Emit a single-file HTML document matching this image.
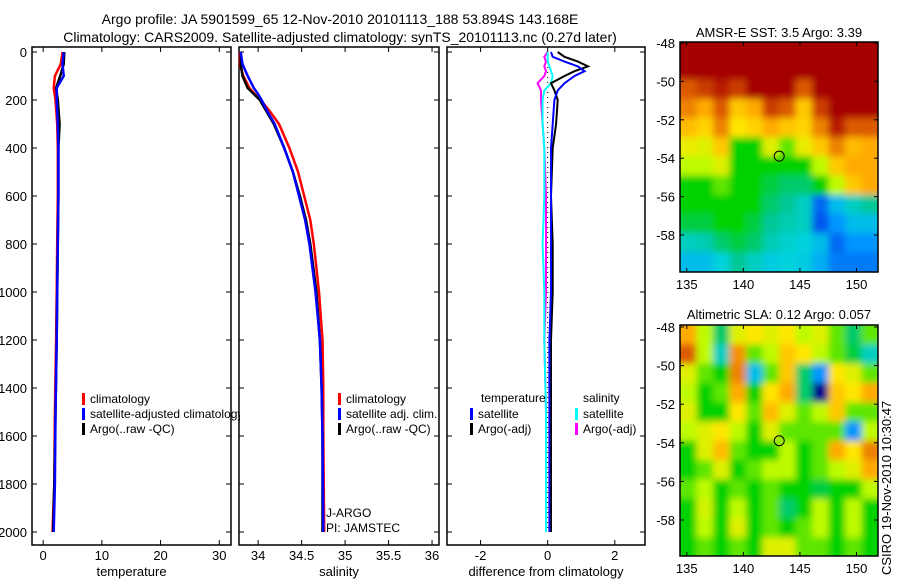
<!DOCTYPE html>
<html><head><meta charset="utf-8"><style>
body{margin:0;background:#fff;}
svg{display:block;font-family:"Liberation Sans",sans-serif;}
text{font-size:13px;fill:#000;}
text.lg{font-size:12px;}
</style></head><body>
<svg id="c" width="900" height="580" xmlns="http://www.w3.org/2000/svg">
<defs>
<filter id="bl" x="0" y="0" width="1" height="1"><feGaussianBlur stdDeviation="3.5"/></filter>
<clipPath id="clipTop"><rect x="680" y="42" width="198" height="230"/></clipPath>
<clipPath id="clipBot"><rect x="680" y="325" width="198" height="231"/></clipPath>
<clipPath id="clipP1"><rect x="32" y="47" width="208" height="498"/></clipPath>
</defs>
<text x="340" y="24" text-anchor="middle" style="font-size:14px">Argo profile: JA 5901599_65 12-Nov-2010 20101113_188 53.894S 143.168E</text>
<text x="340" y="42" text-anchor="middle" style="font-size:14px">Climatology: CARS2009. Satellite-adjusted climatology: synTS_20101113.nc (0.27d later)</text>
<text x="779" y="37" text-anchor="middle">AMSR-E SST: 3.5 Argo: 3.39</text>
<text x="779" y="319" text-anchor="middle">Altimetric SLA: 0.12 Argo: 0.057</text>
<text transform="translate(891,575) rotate(-90)" x="0" y="0">CSIRO 19-Nov-2010 10:30:47</text>
</svg>
<script>
// ---- data ----
const depthTicks=[0,200,400,600,800,1000,1200,1400,1600,1800,2000];
const tempTicks=[0,10,20,30];
const salTicks=[34,34.5,35,35.5,36];
const salTickLabels=["34","34.5","35","35.5","36"];
const diffTicks=[-2,0,2];
const tDepth=[0,50,100,150,200,300,400,600,800,1000,1200,1500,1800,2000];
const tClim=[3.3,3.0,2.0,1.8,2.1,2.4,2.5,2.5,2.4,2.3,2.2,2.0,1.9,1.6];
const tSat=[3.5,3.3,3.5,2.3,2.3,2.5,2.6,2.6,2.5,2.4,2.3,2.1,2.0,1.8];
const tArgo=[3.6,3.5,2.9,2.2,2.5,2.8,2.6,2.6,2.5,2.4,2.3,2.1,1.9,1.7];
const sDepth=[0,50,100,150,175,200,250,300,400,500,600,700,800,1000,1200,1400,1600,2000];
const sArgo=[33.80,33.80,33.82,33.88,33.95,34.02,34.10,34.18,34.30,34.40,34.48,34.55,34.60,34.67,34.71,34.73,34.74,34.74];
const sSat=[33.80,33.82,33.88,33.95,34.00,34.04,34.11,34.19,34.30,34.40,34.47,34.54,34.59,34.66,34.71,34.73,34.74,34.75];
const sClim=[33.79,33.79,33.83,33.90,33.96,34.03,34.14,34.24,34.36,34.46,34.53,34.60,34.64,34.70,34.74,34.75,34.75,34.76];
const dDepth=[0,20,40,60,80,100,130,160,200,300,400,600,800,1000,1200,1500,1800,2000];
const dTSat=[0.1,0.15,0.5,0.9,1.1,0.8,0.5,0.3,0.2,0.15,0.1,0.1,0.1,0.1,0.05,0.05,0.05,0.05];
const dTArgo=[0.3,0.5,0.9,1.2,0.8,0.5,0.1,0.2,0.3,0.25,0.15,0.1,0.15,0.15,0.1,0.1,0.1,0.1];
const dSSat=[0,0,0,0.05,0.1,0.15,0.1,-0.1,-0.15,-0.15,-0.1,-0.1,-0.15,-0.1,-0.1,-0.05,-0.05,-0.05];
const dSArgo=[0,-0.1,-0.05,-0.1,-0.05,-0.1,-0.3,-0.2,-0.2,-0.15,-0.1,-0.05,-0.05,-0.05,-0.1,-0.05,-0.05,-0.05];
const mapLonTicks=[135,140,145,150];
const mapLatTicks=[-48,-50,-52,-54,-56,-58];
const floatLon=143.168, floatLat=-53.894;
const sstGrid=[
[1,1,1,1,1,1,1,1,1,1,1,1],
[1,1,1,1,1,1,1,1,1,1,1,1],
[0.85,0.9,0.95,0.9,1,1,1,0.85,1,1,1,1],
[0.8,0.75,0.85,0.7,0.75,0.9,0.85,0.7,0.9,1,1,1],
[0.72,0.68,0.8,0.65,0.68,0.75,0.7,0.68,0.8,0.95,0.85,0.85],
[0.62,0.6,0.7,0.45,0.45,0.6,0.5,0.62,0.7,0.8,0.72,0.75],
[0.55,0.55,0.6,0.45,0.45,0.45,0.45,0.45,0.55,0.7,0.75,0.75],
[0.45,0.45,0.5,0.45,0.45,0.42,0.4,0.4,0.45,0.55,0.7,0.75],
[0.45,0.45,0.45,0.45,0.45,0.4,0.38,0.35,0.2,0.3,0.35,0.38],
[0.42,0.42,0.45,0.45,0.42,0.38,0.36,0.35,0.18,0.25,0.3,0.3],
[0.35,0.36,0.4,0.42,0.4,0.36,0.34,0.33,0.3,0.2,0.25,0.25],
[0.3,0.3,0.33,0.38,0.35,0.32,0.33,0.32,0.28,0.22,0.22,0.22]];
const slaGrid=[
[0.75,0.55,0.4,0.6,0.65,0.6,0.65,0.55,0.6,0.5,0.4,0.5],
[0.85,0.55,0.35,0.78,0.5,0.55,0.7,0.65,0.55,0.5,0.42,0.35],
[0.6,0.5,0.45,0.8,0.3,0.5,0.7,0.4,0.25,0.65,0.6,0.5],
[0.55,0.45,0.5,0.75,0.45,0.65,0.75,0.4,0.05,0.7,0.65,0.75],
[0.6,0.45,0.45,0.65,0.5,0.72,0.6,0.5,0.55,0.7,0.5,0.5],
[0.55,0.6,0.65,0.55,0.45,0.6,0.5,0.5,0.5,0.5,0.25,0.55],
[0.45,0.6,0.72,0.5,0.45,0.45,0.55,0.45,0.5,0.75,0.65,0.8],
[0.45,0.5,0.6,0.45,0.5,0.55,0.55,0.45,0.5,0.55,0.6,0.75],
[0.5,0.55,0.45,0.5,0.45,0.5,0.45,0.45,0.42,0.45,0.45,0.55],
[0.45,0.58,0.45,0.55,0.45,0.5,0.4,0.45,0.55,0.45,0.55,0.45],
[0.45,0.55,0.45,0.6,0.45,0.5,0.45,0.5,0.55,0.45,0.55,0.45],
[0.45,0.5,0.45,0.5,0.45,0.6,0.6,0.5,0.5,0.45,0.5,0.45]];

const svg=document.getElementById('c');
const NS='http://www.w3.org/2000/svg';
function mk(tag,attrs,parent){const e=document.createElementNS(NS,tag);for(const k in attrs)e.setAttribute(k,attrs[k]);(parent||svg).appendChild(e);return e;}
const Y0=52,Y2000=532,TOP=47,BOT=545;
const yD=d=>Y0+(Y2000-Y0)*d/2000;

function panel(name,x0,x1,vmin,vmax,ticks,labels,xlabel,showY){
  const xs=v=>x0+(x1-x0)*(v-vmin)/(vmax-vmin);
  const g=mk('g',{});
  
  
  const r=mk('rect',{x:x0,y:TOP,width:x1-x0,height:BOT-TOP,fill:'none',stroke:'#000','stroke-width':1.5},g);
  
  
  depthTicks.forEach(d=>{
    mk('line',{x1:x0,x2:x0+5,y1:yD(d),y2:yD(d),stroke:'#000'},g);
    mk('line',{x1:x1-5,x2:x1,y1:yD(d),y2:yD(d),stroke:'#000'},g);
    if(showY){const t=mk('text',{x:x0-5,y:yD(d)+5,'text-anchor':'end'},g);t.textContent=d;
      
      }
  });
  ticks.forEach((v,i)=>{
    mk('line',{x1:xs(v),x2:xs(v),y1:BOT,y2:BOT-5,stroke:'#000'},g);
    mk('line',{x1:xs(v),x2:xs(v),y1:TOP,y2:TOP+5,stroke:'#000'},g);
    const t=mk('text',{x:xs(v),y:BOT+15,'text-anchor':'middle'},g);t.textContent=labels[i];
    
    
  });
  const xl=mk('text',{x:(x0+x1)/2,y:BOT+31,'text-anchor':'middle'},g);xl.textContent=xlabel;
  
  
  return xs;
}
function line(xs,depths,vals,color,name,w){
  const pts=depths.map((d,i)=>xs(vals[i]).toFixed(1)+','+yD(d).toFixed(1)).join(' ');
  const p=mk('polyline',{points:pts,fill:'none',stroke:color,'stroke-width':w||2.5});
  
  
}
function legend(x,y,items,parent){
  items.forEach((it,i)=>{
    const yy=y+i*15;
    mk('rect',{x:x,y:yy-9,width:3,height:12,fill:it[0]},parent);
    const t=mk('text',{x:x+8,y:yy+1,'class':'lg'},parent);t.textContent=it[1];
    
    
  });
}
// Temperature
const xsT=panel('temperature-panel',32,231,-1.9,32,tempTicks,tempTicks.map(String),'temperature',true);
line(xsT,tDepth,tClim,'#f00','temp-climatology-line');
line(xsT,tDepth,tArgo,'#000','temp-argo-line');
line(xsT,tDepth,tSat,'#00f','temp-satellite-line');
const lg1=mk('g',{'clip-path':'url(#clipP1)'});
legend(82,402,[['#f00','climatology'],['#00f','satellite-adjusted climatology'],['#000','Argo(..raw -QC)']],lg1);
// Salinity
const xsS=panel('salinity-panel',239,439,33.78,36.08,salTicks,salTickLabels,'salinity',false);
line(xsS,sDepth,sClim,'#f00','sal-climatology-line');
line(xsS,sDepth,sArgo,'#000','sal-argo-line');
line(xsS,sDepth,sSat,'#00f','sal-satellite-line');
legend(338,402,[['#f00','climatology'],['#00f','satellite adj. clim.'],['#000','Argo(..raw -QC)']]);
let t1=mk('text',{x:326,y:517,'class':'lg'});t1.textContent='J-ARGO';


let t2=mk('text',{x:326,y:532,'class':'lg'});t2.textContent='PI: JAMSTEC';


// Difference
const xsD=panel('difference-panel',447,645,-3.0,2.9,diffTicks,diffTicks.map(String),'difference from climatology',false);
mk('line',{x1:xsD(0),x2:xsD(0),y1:yD(0),y2:yD(2000),stroke:'#000','stroke-dasharray':'1,4'});
line(xsD,dDepth,dSArgo,'#f0f','diff-sal-argo-line',2);
line(xsD,dDepth,dSSat,'#0ff','diff-sal-satellite-line',2);
line(xsD,dDepth,dTArgo,'#000','diff-temp-argo-line',2);
line(xsD,dDepth,dTSat,'#00f','diff-temp-satellite-line',2);
let th=mk('text',{x:481,y:402,'class':'lg'});th.textContent='temperature';


let sh=mk('text',{x:583,y:402,'class':'lg'});sh.textContent='salinity';


legend(470,417,[['#00f','satellite'],['#000','Argo(-adj)']]);
legend(575,417,[['#0ff','satellite'],['#f0f','Argo(-adj)']]);

// colormap (matlab-like jet as seen in reference)
const cStops=[[0.05,[0,0,140]],[0.15,[0,60,230]],[0.25,[0,150,255]],[0.33,[0,210,220]],[0.38,[0,200,150]],[0.45,[0,210,0]],[0.55,[190,250,0]],[0.65,[255,230,0]],[0.75,[255,170,0]],[0.85,[220,90,0]],[1.0,[165,0,0]]];
function cmap(v){
  if(v<=cStops[0][0])return 'rgb('+cStops[0][1].join(',')+')';
  for(let i=1;i<cStops.length;i++){
    if(v<=cStops[i][0]){const a=cStops[i-1],b=cStops[i];const f=(v-a[0])/(b[0]-a[0]);
      return 'rgb('+a[1].map((c,k)=>Math.round(c+(b[1][k]-c)*f)).join(',')+')';}
  }
  return 'rgb('+cStops[cStops.length-1][1].join(',')+')';
}
function map(name,grid,fx0,fx1,fy0,fy1,latA,yA,latB,yB,clip){
  const lonMin=134.4,lonMax=151.9;
  const xs=lo=>fx0+(fx1-fx0)*(lo-lonMin)/(lonMax-lonMin);
  const ys=la=>yA+(yB-yA)*(la-latA)/(latB-latA);
  const g=mk('g',{});
  
  
  const cg=mk('g',{'clip-path':'url(#'+clip+')'},g);
  const bg=mk('g',{filter:'url(#bl)'},cg);
  const nr=grid.length,nc=grid[0].length;
  const latTop=-47.9,latBot=-59.9;
  const dLon=(lonMax-lonMin)/nc,dLat=(latTop-latBot)/nr;
  grid.forEach((row,i)=>row.forEach((v,j)=>{
    let xa=xs(lonMin+j*dLon),xb=xs(lonMin+(j+1)*dLon);
    let ya=ys(latTop-i*dLat),yb=ys(latTop-(i+1)*dLat);
    if(j===0)xa-=12; if(j===nc-1)xb+=12; if(i===0)ya-=12; if(i===nr-1)yb+=12;
    const c=mk('rect',{x:xa,y:ya,width:xb-xa+0.6,height:yb-ya+0.6,fill:cmap(v)},bg);
    
    
  }));
  mk('rect',{x:fx0,y:fy0,width:fx1-fx0,height:fy1-fy0,fill:'none',stroke:'#000','stroke-width':1.5},g);
  mapLonTicks.forEach(lo=>{
    mk('line',{x1:xs(lo),x2:xs(lo),y1:fy1,y2:fy1-4,stroke:'#000'},g);
    mk('line',{x1:xs(lo),x2:xs(lo),y1:fy0,y2:fy0+4,stroke:'#000'},g);
    const t=mk('text',{x:xs(lo),y:fy1+17,'text-anchor':'middle'},g);t.textContent=lo;
    
    
  });
  mapLatTicks.forEach(la=>{
    mk('line',{x1:fx0,x2:fx0+4,y1:ys(la),y2:ys(la),stroke:'#000'},g);
    mk('line',{x1:fx1-4,x2:fx1,y1:ys(la),y2:ys(la),stroke:'#000'},g);
    const t=mk('text',{x:fx0-5,y:ys(la)+5,'text-anchor':'end'},g);t.textContent=la;
    
    
  });
  const m=mk('circle',{cx:xs(floatLon),cy:ys(floatLat),r:5,fill:'none',stroke:'#000'},g);
  
  
}
map('sst-map',sstGrid,680,878,42,272,-48,43,-58,235,'clipTop');
map('sla-map',slaGrid,680,878,325,556,-48,327,-58,520,'clipBot');
</script>
</body></html>
